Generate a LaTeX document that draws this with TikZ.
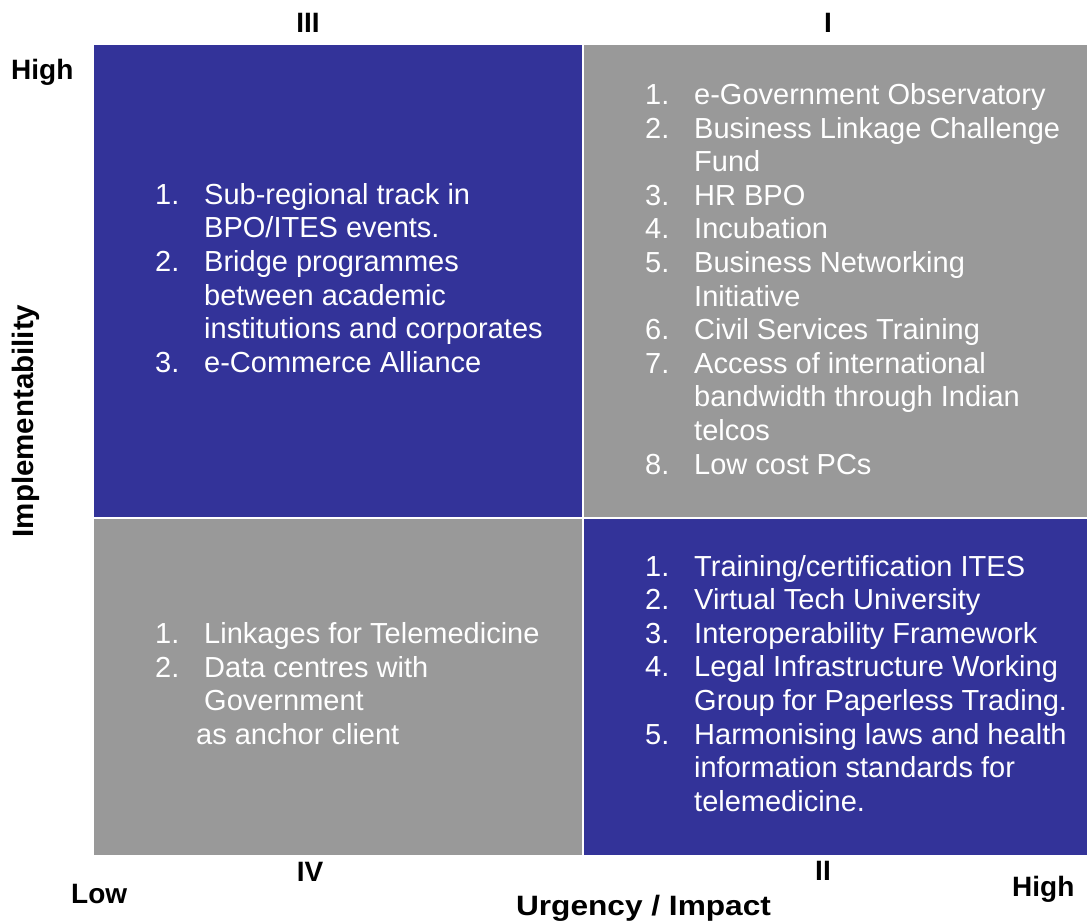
\documentclass[tikz,border=0pt]{standalone}
\usepackage{fontspec}
\setmainfont{Liberation Sans}
\definecolor{quadblue}{RGB}{51,51,153}
\definecolor{quadgrey}{RGB}{153,153,153}
\tikzset{
  bluequad/.style={fill=quadblue, draw=none},
  greyquad/.style={fill=quadgrey, draw=none},
  itemtxt/.style={text=white, anchor=base west, inner sep=0pt,
    font=\fontsize{29}{33.6}\selectfont},
  axislbl/.style={text=black, anchor=base, inner sep=0pt,
    font=\fontsize{28}{32}\selectfont\bfseries},
}
\begin{document}
\begin{tikzpicture}[x=1pt,y=-1pt]
\useasboundingbox (0,0) rectangle (1087,922);

% quadrant fields
\path[bluequad] (94,45) rectangle (581.7,516.7);
\path[greyquad] (583.7,45) rectangle (1087,516.7);
\path[greyquad] (94,518.7) rectangle (581.7,854.7);
\path[bluequad] (583.7,518.7) rectangle (1087,854.7);

% quadrant III (top left)
\def\nx{155}\def\tx{204}
\node[itemtxt] (a1n) at (\nx,204.3) {1.};
\node[itemtxt] (a1a) at (\tx,204.3) {Sub-regional track in};
\node[itemtxt] (a1b) at (\tx,237.9) {BPO/ITES events.};
\node[itemtxt] (a2n) at (\nx,271.5) {2.};
\node[itemtxt] (a2a) at (\tx,271.5) {Bridge programmes};
\node[itemtxt] (a2b) at (\tx,305.1) {between academic};
\node[itemtxt] (a2c) at (\tx,338.7) {institutions and corporates};
\node[itemtxt] (a3n) at (\nx,372.3) {3.};
\node[itemtxt] (a3a) at (\tx,372.3) {e-Commerce Alliance};

% quadrant I (top right)
\def\mx{645}\def\ux{694}
\node[itemtxt] (b1n) at (\mx,104.5) {1.};
\node[itemtxt] (b1a) at (\ux,104.5) {e-Government Observatory};
\node[itemtxt] (b2n) at (\mx,138.1) {2.};
\node[itemtxt] (b2a) at (\ux,138.1) {Business Linkage Challenge};
\node[itemtxt] (b2b) at (\ux,171.7) {Fund};
\node[itemtxt] (b3n) at (\mx,205.3) {3.};
\node[itemtxt] (b3a) at (\ux,205.3) {HR BPO};
\node[itemtxt] (b4n) at (\mx,238.9) {4.};
\node[itemtxt] (b4a) at (\ux,238.9) {Incubation};
\node[itemtxt] (b5n) at (\mx,272.5) {5.};
\node[itemtxt] (b5a) at (\ux,272.5) {Business Networking};
\node[itemtxt] (b5b) at (\ux,306.1) {Initiative};
\node[itemtxt] (b6n) at (\mx,339.7) {6.};
\node[itemtxt] (b6a) at (\ux,339.7) {Civil Services Training};
\node[itemtxt] (b7n) at (\mx,373.3) {7.};
\node[itemtxt] (b7a) at (\ux,373.3) {Access of international};
\node[itemtxt] (b7b) at (\ux,406.9) {bandwidth through Indian};
\node[itemtxt] (b7c) at (\ux,440.5) {telcos};
\node[itemtxt] (b8n) at (\mx,474.1) {8.};
\node[itemtxt] (b8a) at (\ux,474.1) {Low cost PCs};

% quadrant IV (bottom left)
\node[itemtxt] (c1n) at (\nx,643.5) {1.};
\node[itemtxt] (c1a) at (\tx,643.5) {Linkages for Telemedicine};
\node[itemtxt] (c2n) at (\nx,677.1) {2.};
\node[itemtxt] (c2a) at (\tx,677.1) {Data centres with};
\node[itemtxt] (c2b) at (\tx,710.7) {Government};
\node[itemtxt] (c2c) at (196,744.3) {as anchor client};

% quadrant II (bottom right)
\node[itemtxt] (d1n) at (\mx,576) {1.};
\node[itemtxt] (d1a) at (\ux,576) {Training/certification ITES};
\node[itemtxt] (d2n) at (\mx,609.6) {2.};
\node[itemtxt] (d2a) at (\ux,609.6) {Virtual Tech University};
\node[itemtxt] (d3n) at (\mx,643.2) {3.};
\node[itemtxt] (d3a) at (\ux,643.2) {Interoperability Framework};
\node[itemtxt] (d4n) at (\mx,676.8) {4.};
\node[itemtxt] (d4a) at (\ux,676.8) {Legal Infrastructure Working};
\node[itemtxt] (d4b) at (\ux,710.4) {Group for Paperless Trading.};
\node[itemtxt] (d5n) at (\mx,744) {5.};
\node[itemtxt] (d5a) at (\ux,744) {Harmonising laws and health};
\node[itemtxt] (d5b) at (\ux,777.6) {information standards for};
\node[itemtxt] (d5c) at (\ux,811.2) {telemedicine.};

% quadrant numerals
\node[axislbl] (q3) at (308,32.7) {III};
\node[axislbl] (q1) at (828,32.7) {I};
\node[axislbl] (q4) at (310,881) {IV};
\node[axislbl] (q2) at (823,880) {II};

% axis labels
\node[axislbl, anchor=base west] (yhigh) at (11,79.3) {High};
\node[axislbl, anchor=base west] (xhigh) at (1012,896.7) {High};
\begin{scope}
  \clip (0,860) rectangle (128,922);
  \node[axislbl, anchor=base west] (xlow) at (71,903.3) {Low};
\end{scope}
\node[axislbl, xscale=1.13] (xaxis) at (643.5,915) {Urgency / Impact};
\node[axislbl, rotate=90, font=\fontsize{29.5}{33}\selectfont\bfseries] (yaxis) at (34,421) {Implementability};
\end{tikzpicture}
\end{document}
